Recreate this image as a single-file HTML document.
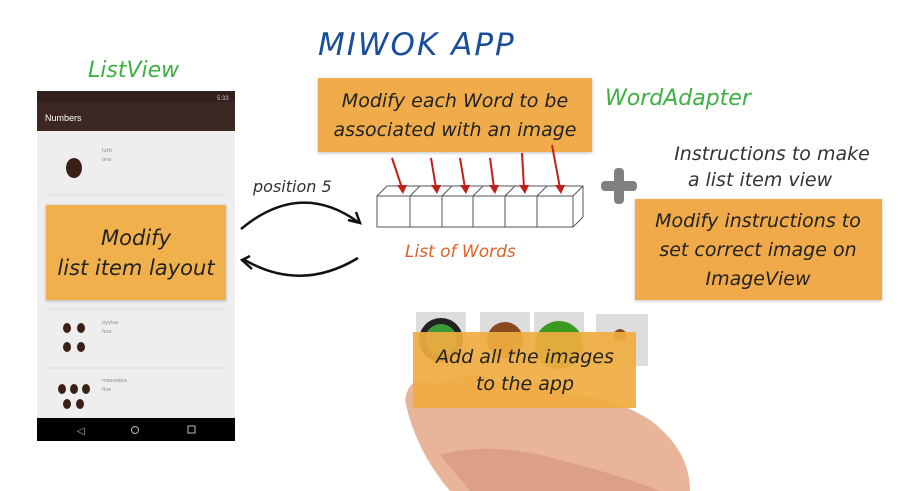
<!DOCTYPE html>
<html><head><meta charset="utf-8"><style>
body{margin:0;width:898px;height:491px;overflow:hidden;background:#fff;font-family:"DejaVu Sans","Liberation Sans",sans-serif;}
svg{display:block}
.h{font-family:"DejaVu Sans","Liberation Sans",sans-serif;font-style:italic;}
</style></head><body>
<svg width="898" height="491" viewBox="0 0 898 491" xmlns="http://www.w3.org/2000/svg">
<defs><filter id="sh"><feDropShadow dx="0" dy="1" stdDeviation="1.5" flood-opacity="0.25"/></filter></defs>
<rect width="898" height="491" fill="#fff"/>
<rect x="37" y="91" width="198" height="350" fill="#eeeeee"/>
<rect x="37" y="91" width="198" height="11" fill="#33201c"/>
<rect x="37" y="102" width="198" height="29" fill="#3d2722"/>
<text x="45" y="121" font-size="9" fill="#fff" font-family="Liberation Sans,sans-serif">Numbers</text>
<text x="217" y="100" font-size="6" fill="#ccc" font-family="Liberation Sans,sans-serif">5:33</text>
<rect x="37" y="418" width="198" height="23" fill="#000"/>
<text x="77" y="434" font-size="10" fill="#bbb">◁</text>
<circle cx="135" cy="430" r="3.5" fill="none" stroke="#bbb"/>
<rect x="188" y="426" width="7" height="7" fill="none" stroke="#bbb"/>
<line x1="46" y1="195" x2="226" y2="195" stroke="#ddd"/>
<line x1="46" y1="309" x2="226" y2="309" stroke="#ddd"/>
<line x1="46" y1="368" x2="226" y2="368" stroke="#ddd"/>
<g fill="#3b2016"><ellipse cx="74" cy="168" rx="8" ry="10"/>
<ellipse cx="67" cy="328" rx="4" ry="5"/><ellipse cx="81" cy="328" rx="4" ry="5"/><ellipse cx="67" cy="347" rx="4" ry="5"/><ellipse cx="81" cy="347" rx="4" ry="5"/>
<ellipse cx="62" cy="389" rx="4" ry="5"/><ellipse cx="74" cy="389" rx="4" ry="5"/><ellipse cx="86" cy="389" rx="4" ry="5"/><ellipse cx="67" cy="404" rx="4" ry="5"/><ellipse cx="80" cy="404" rx="4" ry="5"/></g>
<text x="102" y="152" font-size="5" fill="#888">lutti</text><text x="102" y="161" font-size="5" fill="#888">one</text>
<text x="102" y="324" font-size="5" fill="#888">oyyisa</text><text x="102" y="333" font-size="5" fill="#888">four</text>
<text x="102" y="382" font-size="5" fill="#888">massokka</text><text x="102" y="391" font-size="5" fill="#888">five</text>
<rect x="46" y="205" width="180" height="95" fill="#f0b14d" filter="url(#sh)"/>
<text class="h" x="136" y="245" font-size="21" text-anchor="middle" fill="#222">Modify</text>
<text class="h" x="136" y="275" font-size="21" text-anchor="middle" fill="#222">list item layout</text>
<text class="h" x="88" y="77" font-size="22" fill="#3cb043">ListView</text>
<text class="h" x="318" y="55" font-size="31" fill="#1a4d9c" letter-spacing="2">MIWOK APP</text>
<rect x="318" y="78" width="274" height="74" fill="#f0ac4b" filter="url(#sh)"/>
<text class="h" x="455" y="107" font-size="19" text-anchor="middle" fill="#222">Modify each Word to be</text>
<text class="h" x="455" y="136" font-size="19" text-anchor="middle" fill="#222">associated with an image</text>
<text class="h" x="605" y="105" font-size="22" fill="#3cb043">WordAdapter</text>
<g fill="none" stroke="#555" stroke-width="1">
<rect x="377" y="196" width="196" height="31"/>
<polyline points="377,196 387,186 583,186 583,217 573,227"/>
<line x1="573" y1="196" x2="583" y2="186"/>
<line x1="410" y1="196" x2="410" y2="227"/><line x1="442" y1="196" x2="442" y2="227"/><line x1="473" y1="196" x2="473" y2="227"/><line x1="505" y1="196" x2="505" y2="227"/><line x1="537" y1="196" x2="537" y2="227"/>
<line x1="410" y1="196" x2="420" y2="186"/><line x1="442" y1="196" x2="452" y2="186"/><line x1="473" y1="196" x2="483" y2="186"/><line x1="505" y1="196" x2="515" y2="186"/><line x1="537" y1="196" x2="547" y2="186"/>
</g>
<g stroke="#c0201a" stroke-width="2" fill="#c0201a">
<line x1="392" y1="158" x2="402" y2="188"/><line x1="431" y1="158" x2="436" y2="188"/><line x1="460" y1="158" x2="465" y2="188"/><line x1="490" y1="158" x2="494" y2="188"/><line x1="522" y1="153" x2="524" y2="188"/><line x1="552" y1="145" x2="560" y2="188"/>
</g>
<g fill="#c0201a"><polygon points="397,185 407,185 403,194"/><polygon points="431,185 441,185 437,194"/><polygon points="460,185 470,185 466,194"/><polygon points="489,185 499,185 495,194"/><polygon points="519,185 529,185 525,194"/><polygon points="555,185 565,185 561,194"/></g>
<text class="h" x="405" y="257" font-size="17" fill="#e0602a">List of Words</text>
<text class="h" x="253" y="192" font-size="16" fill="#333">position 5</text>
<path d="M241 229 Q300 180 358 222" fill="none" stroke="#111" stroke-width="2.5"/>
<path d="M348 220 L360 223 L356 212" fill="none" stroke="#111" stroke-width="2.5"/>
<path d="M358 258 Q300 293 243 259" fill="none" stroke="#111" stroke-width="2.5"/>
<path d="M250 256 L242 260 L252 269" fill="none" stroke="#111" stroke-width="2.5"/>
<rect x="601" y="181" width="36" height="10" rx="4" fill="#808080"/>
<rect x="614" y="168" width="10" height="36" rx="4" fill="#808080"/>
<text class="h" x="772" y="160" font-size="19" text-anchor="middle" fill="#333">Instructions to make</text>
<text class="h" x="760" y="186" font-size="19" text-anchor="middle" fill="#333">a list item view</text>
<rect x="635" y="199" width="247" height="101" fill="#f0aa4a" filter="url(#sh)"/>
<text class="h" x="758" y="227" font-size="19" text-anchor="middle" fill="#222">Modify instructions to</text>
<text class="h" x="758" y="256" font-size="19" text-anchor="middle" fill="#222">set correct image on</text>
<text class="h" x="758" y="285" font-size="19" text-anchor="middle" fill="#222">ImageView</text>
<rect x="416" y="312" width="50" height="55" fill="#ddd"/>
<circle cx="441" cy="340" r="22" fill="#222"/><circle cx="441" cy="340" r="16" fill="#3a9a3a"/>
<rect x="480" y="312" width="50" height="55" fill="#ddd"/><circle cx="505" cy="340" r="18" fill="#8a4a1f"/>
<rect x="534" y="312" width="50" height="55" fill="#ddd"/><circle cx="559" cy="345" r="24" fill="#3a9a1f"/>
<rect x="596" y="314" width="52" height="52" fill="#ddd"/><circle cx="620" cy="335" r="6" fill="#8a4a1f"/>
<path d="M405 400 Q410 370 440 385 Q470 365 505 385 Q540 375 570 395 Q610 395 650 420 Q690 450 690 491 L450 491 Q415 450 405 400 Z" fill="#e9b59a"/>
<path d="M440 455 Q490 440 560 460 Q620 475 660 491 L470 491 Z" fill="#dba085"/>
<rect x="413" y="332" width="223" height="76" fill="#f0ac40" opacity="0.92"/>
<text class="h" x="525" y="363" font-size="19" text-anchor="middle" fill="#222">Add all the images</text>
<text class="h" x="525" y="390" font-size="19" text-anchor="middle" fill="#222">to the app</text>
</svg>
</body></html>
